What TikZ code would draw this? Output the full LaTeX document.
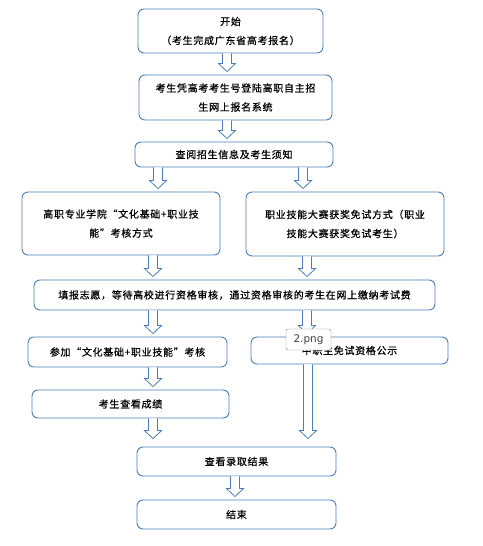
\documentclass[tikz,border=0pt]{standalone}
\usepackage{fontspec}
\setmainfont{Noto Sans CJK SC}
\newfontfamily\tipfont{DejaVu Sans}
\usetikzlibrary{calc}
\definecolor{boxblue}{HTML}{4A7EBB}
\definecolor{tipgray}{HTML}{8C8C8C}
\newcommand{\boxfont}{\fontsize{10}{19}\selectfont\addfontfeatures{LetterSpace=7,FakeBold=0.6}}
% hollow block arrow: [gap] x, from node, to node
\newcommand{\blockarr}[4][3]{%
  \draw[blockarrow] let \p1=(#3.south), \p2=(#4.north) in
    (#2pt-4.5pt,\y1) -- (#2pt-4.5pt,\y2+#1pt+8pt) -- (#2pt-8.5pt,\y2+#1pt+8pt) -- (#2pt,\y2+#1pt)
    -- (#2pt+8.5pt,\y2+#1pt+8pt) -- (#2pt+4.5pt,\y2+#1pt+8pt) -- (#2pt+4.5pt,\y1);}

\begin{document}
\begin{tikzpicture}[x=1pt,y=-1pt,
  box/.style={draw=boxblue,line width=0.9pt,rounded corners=6pt,fill=white,align=center,font=\boxfont,inner sep=2pt},
  blockarrow/.style={draw=boxblue,line width=0.8pt,fill=white,line join=miter}]
\useasboundingbox (0,0) rectangle (482,546);
\node[box,minimum width=185pt,minimum height=44pt] (b1) at (230.5,31) {开始\\（考生完成广东省高考报名）};
\node[box,minimum width=193pt,minimum height=45pt] (b2) at (235.5,97.5) {考生凭高考考生号登陆高职自主招\\生网上报名系统};
\node[box,minimum width=198pt,minimum height=25pt] (b3) at (234,154.5) {查阅招生信息及考生须知};
\node[box,minimum width=198pt,minimum height=63pt] (b4) at (121,223.5) {高职专业学院“文化基础+职业技\\能”考核方式};
\node[box,minimum width=198pt,minimum height=64pt] (b5) at (345,224) {职业技能大赛获奖免试方式（职业\\技能大赛获奖免试考生）};
\node[box,minimum width=401pt,minimum height=30pt] (b6) at (234.5,295) {填报志愿，等待高校进行资格审核，通过资格审核的考生在网上缴纳考试费};
\node[box,minimum width=199pt,minimum height=30pt] (b7) at (127.5,352) {参加“文化基础+职业技能”考核};
\node[box,minimum width=197pt,minimum height=27pt] (b8) at (349.5,350.5) {中职生免试资格公示};
\node[box,minimum width=197pt,minimum height=28pt] (b9) at (130.5,404) {考生查看成绩};
\node[box,minimum width=199pt,minimum height=29pt] (b10) at (236.5,461.5) {查看录取结果};
\node[box,minimum width=199pt,minimum height=29pt] (b11) at (236.5,514.5) {结束};
\foreach \px/\src/\dst in {227/b1/b2,227/b2/b3,158/b3/b4,303/b3/b5,153/b4/b6,307/b5/b6,153/b6/b7,307/b6/b8,153/b7/b9,235/b10/b11}{\blockarr{\px}{\src}{\dst}}
\blockarr[8]{153}{b9}{b10}
\blockarr[8]{308}{b8}{b10}
\node[draw=tipgray,fill=white,rounded corners=1.5pt,font=\tipfont\fontsize{10.5}{12}\selectfont,text=black!75,minimum width=45pt,minimum height=21pt,inner sep=1pt] (tip) at (308.5,339.5) {2.png};
\end{tikzpicture}
\end{document}
